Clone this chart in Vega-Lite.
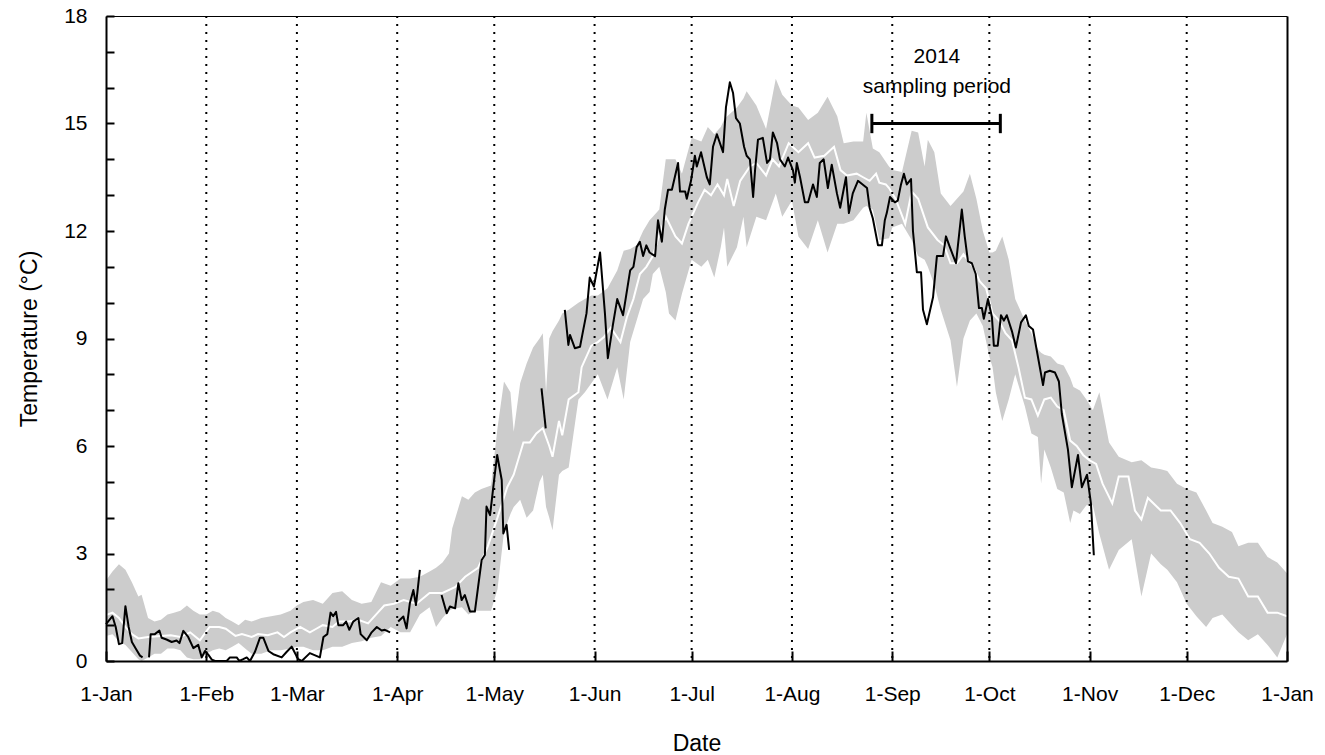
{
  "$schema": "https://vega.github.io/schema/vega-lite/v6.json",
  "width": 1181,
  "height": 645,
  "autosize": {"type": "none"},
  "padding": {"left": 106, "top": 16, "right": 38, "bottom": 94},
  "background": "white",
  "view": {"stroke": null},
  "config": {"font": "Liberation Sans"},
  "datasets": {
    "band": [
      {"d":0,"lo":0.7,"hi":2.25},{"d":2,"lo":0.75,"hi":2.5},{"d":4,"lo":0.55,"hi":2.7},{"d":6,"lo":0.45,"hi":2.55},{"d":8,"lo":0.25,"hi":2.2},{"d":10,"lo":0.05,"hi":1.8},{"d":11,"lo":0.0,"hi":1.85},{"d":13,"lo":0.1,"hi":1.2},{"d":15,"lo":0.2,"hi":1.1},{"d":17,"lo":0.2,"hi":1.15},{"d":19,"lo":0.35,"hi":1.3},{"d":21,"lo":0.35,"hi":1.35},{"d":23,"lo":0.3,"hi":1.4},{"d":25,"lo":0.1,"hi":1.55},{"d":27,"lo":0.05,"hi":1.4},{"d":29,"lo":0.05,"hi":1.3},{"d":31,"lo":0.2,"hi":1.3},{"d":33,"lo":0.3,"hi":1.4},{"d":35,"lo":0.35,"hi":1.35},{"d":37,"lo":0.3,"hi":1.2},{"d":39,"lo":0.4,"hi":1.1},{"d":41,"lo":0.5,"hi":1.0},{"d":43,"lo":0.35,"hi":1.15},{"d":45,"lo":0.2,"hi":1.1},{"d":48,"lo":0.2,"hi":1.2},{"d":51,"lo":0.3,"hi":1.25},{"d":54,"lo":0.3,"hi":1.3},{"d":57,"lo":0.35,"hi":1.4},{"d":59,"lo":0.4,"hi":1.55},{"d":61,"lo":0.4,"hi":1.65},{"d":64,"lo":0.3,"hi":1.7},{"d":67,"lo":0.3,"hi":1.6},{"d":70,"lo":0.4,"hi":1.9},{"d":73,"lo":0.4,"hi":1.95},{"d":76,"lo":0.5,"hi":1.7},{"d":79,"lo":0.55,"hi":1.6},{"d":82,"lo":0.65,"hi":1.65},{"d":85,"lo":0.7,"hi":2.2},{"d":88,"lo":0.95,"hi":2.1},{"d":91,"lo":0.8,"hi":2.3},{"d":94,"lo":0.8,"hi":2.3},{"d":97,"lo":1.3,"hi":2.35},{"d":100,"lo":1.5,"hi":2.5},{"d":102,"lo":0.95,"hi":2.6},{"d":104,"lo":1.2,"hi":2.75},{"d":106,"lo":1.4,"hi":3.0},{"d":107,"lo":1.45,"hi":3.7},{"d":110,"lo":1.5,"hi":4.6},{"d":112,"lo":1.3,"hi":4.5},{"d":114,"lo":1.4,"hi":4.7},{"d":116,"lo":1.4,"hi":4.8},{"d":119,"lo":1.4,"hi":4.9},{"d":121,"lo":2.0,"hi":6.5},{"d":123,"lo":3.6,"hi":7.8},{"d":125,"lo":4.1,"hi":7.5},{"d":126,"lo":4.3,"hi":6.4},{"d":128,"lo":4.5,"hi":7.75},{"d":130,"lo":4.0,"hi":8.3},{"d":132,"lo":4.2,"hi":8.75},{"d":134,"lo":5.0,"hi":9.0},{"d":135,"lo":5.2,"hi":9.15},{"d":136,"lo":4.3,"hi":7.5},{"d":137,"lo":4.0,"hi":9.0},{"d":138,"lo":3.65,"hi":9.2},{"d":140,"lo":5.2,"hi":9.5},{"d":141,"lo":5.3,"hi":9.7},{"d":143,"lo":5.4,"hi":9.8},{"d":146,"lo":7.3,"hi":10.0},{"d":148,"lo":7.5,"hi":10.1},{"d":150,"lo":7.75,"hi":10.2},{"d":152,"lo":8.0,"hi":10.2},{"d":155,"lo":7.3,"hi":10.4},{"d":158,"lo":8.2,"hi":10.9},{"d":160,"lo":7.3,"hi":11.45},{"d":162,"lo":8.9,"hi":11.5},{"d":164,"lo":9.5,"hi":11.6},{"d":166,"lo":10.1,"hi":12.0},{"d":168,"lo":10.3,"hi":12.3},{"d":169,"lo":10.8,"hi":12.4},{"d":171,"lo":11.0,"hi":12.6},{"d":173,"lo":10.3,"hi":14.0},{"d":174,"lo":9.7,"hi":14.0},{"d":176,"lo":9.5,"hi":14.0},{"d":178,"lo":10.25,"hi":13.6},{"d":181,"lo":11.2,"hi":14.6},{"d":184,"lo":11.0,"hi":14.5},{"d":186,"lo":11.2,"hi":14.9},{"d":188,"lo":10.7,"hi":14.7},{"d":190,"lo":11.55,"hi":14.9},{"d":191,"lo":12.1,"hi":15.1},{"d":192,"lo":11.0,"hi":15.2},{"d":195,"lo":11.55,"hi":15.45},{"d":197,"lo":12.4,"hi":15.7},{"d":198,"lo":11.55,"hi":15.9},{"d":201,"lo":12.4,"hi":15.5},{"d":204,"lo":12.3,"hi":14.85},{"d":207,"lo":13.05,"hi":16.25},{"d":209,"lo":12.4,"hi":15.8},{"d":212,"lo":12.85,"hi":15.5},{"d":214,"lo":11.85,"hi":15.45},{"d":217,"lo":11.5,"hi":15.1},{"d":220,"lo":12.3,"hi":15.3},{"d":223,"lo":11.4,"hi":15.75},{"d":226,"lo":12.2,"hi":15.2},{"d":228,"lo":12.2,"hi":14.45},{"d":231,"lo":12.3,"hi":14.5},{"d":234,"lo":12.65,"hi":14.5},{"d":235,"lo":12.7,"hi":15.3},{"d":237,"lo":12.6,"hi":14.3},{"d":239,"lo":11.75,"hi":14.2},{"d":242,"lo":11.8,"hi":13.8},{"d":243,"lo":12.1,"hi":13.7},{"d":246,"lo":12.2,"hi":13.65},{"d":249,"lo":11.75,"hi":14.8},{"d":251,"lo":11.3,"hi":14.75},{"d":253,"lo":11.2,"hi":13.8},{"d":254,"lo":11.0,"hi":14.55},{"d":256,"lo":10.5,"hi":14.2},{"d":258,"lo":9.8,"hi":13.05},{"d":261,"lo":8.95,"hi":12.7},{"d":263,"lo":7.65,"hi":12.9},{"d":265,"lo":9.0,"hi":13.1},{"d":267,"lo":9.5,"hi":13.6},{"d":269,"lo":9.7,"hi":12.9},{"d":271,"lo":9.35,"hi":12.0},{"d":273,"lo":8.5,"hi":11.4},{"d":274,"lo":8.2,"hi":11.4},{"d":275,"lo":7.5,"hi":11.45},{"d":277,"lo":6.7,"hi":11.85},{"d":279,"lo":7.3,"hi":11.2},{"d":281,"lo":8.0,"hi":10.1},{"d":284,"lo":7.1,"hi":9.5},{"d":286,"lo":6.35,"hi":9.15},{"d":288,"lo":6.25,"hi":8.7},{"d":289,"lo":4.95,"hi":8.6},{"d":290,"lo":5.9,"hi":8.55},{"d":292,"lo":5.4,"hi":8.5},{"d":294,"lo":4.8,"hi":8.3},{"d":296,"lo":4.7,"hi":8.25},{"d":298,"lo":3.85,"hi":7.9},{"d":299,"lo":4.2,"hi":7.65},{"d":301,"lo":4.1,"hi":7.55},{"d":303,"lo":4.35,"hi":7.3},{"d":305,"lo":4.35,"hi":7.0},{"d":307,"lo":3.55,"hi":7.5},{"d":310,"lo":2.55,"hi":6.1},{"d":313,"lo":3.1,"hi":5.7},{"d":317,"lo":3.4,"hi":5.55},{"d":320,"lo":1.8,"hi":5.6},{"d":323,"lo":3.0,"hi":5.4},{"d":326,"lo":2.7,"hi":5.35},{"d":328,"lo":2.55,"hi":5.3},{"d":331,"lo":2.2,"hi":4.95},{"d":334,"lo":1.6,"hi":4.8},{"d":337,"lo":1.25,"hi":4.7},{"d":340,"lo":0.95,"hi":4.2},{"d":342,"lo":1.2,"hi":3.85},{"d":345,"lo":1.3,"hi":3.75},{"d":348,"lo":1.0,"hi":3.6},{"d":350,"lo":0.8,"hi":3.2},{"d":353,"lo":0.58,"hi":3.3},{"d":356,"lo":0.75,"hi":3.3},{"d":359,"lo":0.45,"hi":2.9},{"d":362,"lo":0.1,"hi":2.75},{"d":365,"lo":0.75,"hi":2.45}
    ],
    "mean": [
      {"d":0,"t":1.28},{"d":2,"t":1.35},{"d":4,"t":1.2},{"d":6,"t":0.95},{"d":8,"t":0.75},{"d":10,"t":0.63},{"d":13,"t":0.67},{"d":17,"t":0.7},{"d":20,"t":0.72},{"d":23,"t":0.67},{"d":26,"t":0.8},{"d":29,"t":0.58},{"d":32,"t":0.95},{"d":35,"t":0.95},{"d":37,"t":0.9},{"d":40,"t":0.7},{"d":42,"t":0.75},{"d":45,"t":0.67},{"d":47,"t":0.75},{"d":50,"t":0.72},{"d":53,"t":0.8},{"d":55,"t":0.67},{"d":57,"t":0.8},{"d":60,"t":0.95},{"d":63,"t":0.8},{"d":65,"t":0.9},{"d":67,"t":1.0},{"d":70,"t":0.95},{"d":72,"t":1.1},{"d":75,"t":1.1},{"d":78,"t":1.15},{"d":81,"t":1.05},{"d":84,"t":1.35},{"d":86,"t":1.55},{"d":89,"t":1.6},{"d":92,"t":1.7},{"d":96,"t":1.6},{"d":100,"t":1.9},{"d":104,"t":1.9},{"d":108,"t":2.07},{"d":111,"t":2.35},{"d":115,"t":2.6},{"d":118,"t":3.2},{"d":121,"t":4.0},{"d":124,"t":4.85},{"d":126,"t":5.2},{"d":129,"t":6.1},{"d":131,"t":6.1},{"d":133,"t":6.35},{"d":135,"t":6.5},{"d":137,"t":6.0},{"d":138,"t":5.7},{"d":140,"t":6.7},{"d":141,"t":6.3},{"d":143,"t":7.3},{"d":146,"t":7.5},{"d":147,"t":8.2},{"d":150,"t":8.8},{"d":152,"t":8.9},{"d":154,"t":9.05},{"d":156,"t":9.3},{"d":159,"t":8.9},{"d":161,"t":9.6},{"d":163,"t":10.1},{"d":165,"t":10.8},{"d":167,"t":11.0},{"d":169,"t":11.3},{"d":171,"t":11.9},{"d":173,"t":12.4},{"d":176,"t":11.85},{"d":178,"t":11.65},{"d":180,"t":12.2},{"d":183,"t":12.8},{"d":185,"t":13.15},{"d":187,"t":13.0},{"d":189,"t":13.3},{"d":191,"t":13.0},{"d":192,"t":13.45},{"d":194,"t":12.7},{"d":196,"t":13.4},{"d":199,"t":13.8},{"d":201,"t":13.9},{"d":204,"t":13.55},{"d":206,"t":14.0},{"d":208,"t":13.8},{"d":211,"t":14.45},{"d":214,"t":14.2},{"d":217,"t":14.45},{"d":219,"t":14.05},{"d":222,"t":14.1},{"d":225,"t":14.35},{"d":227,"t":13.7},{"d":229,"t":13.55},{"d":232,"t":13.6},{"d":234,"t":13.5},{"d":236,"t":13.4},{"d":238,"t":13.6},{"d":239,"t":13.35},{"d":241,"t":13.3},{"d":242,"t":13.2},{"d":244,"t":12.9},{"d":247,"t":12.2},{"d":249,"t":13.1},{"d":251,"t":12.9},{"d":254,"t":12.1},{"d":257,"t":11.75},{"d":259,"t":11.6},{"d":261,"t":11.1},{"d":263,"t":11.1},{"d":265,"t":11.35},{"d":268,"t":11.0},{"d":270,"t":10.6},{"d":272,"t":10.4},{"d":274,"t":9.7},{"d":276,"t":9.5},{"d":278,"t":9.15},{"d":280,"t":8.95},{"d":282,"t":8.2},{"d":284,"t":7.35},{"d":286,"t":7.3},{"d":288,"t":6.85},{"d":290,"t":7.3},{"d":292,"t":7.35},{"d":294,"t":7.1},{"d":296,"t":7.0},{"d":298,"t":6.15},{"d":300,"t":6.0},{"d":302,"t":5.75},{"d":304,"t":5.6},{"d":306,"t":5.5},{"d":308,"t":4.95},{"d":311,"t":4.4},{"d":313,"t":5.15},{"d":316,"t":5.15},{"d":318,"t":4.2},{"d":320,"t":3.95},{"d":322,"t":4.55},{"d":326,"t":4.2},{"d":329,"t":4.2},{"d":332,"t":3.85},{"d":335,"t":3.4},{"d":338,"t":3.3},{"d":341,"t":3.0},{"d":344,"t":2.6},{"d":347,"t":2.35},{"d":350,"t":2.3},{"d":353,"t":1.8},{"d":356,"t":1.8},{"d":359,"t":1.35},{"d":362,"t":1.35},{"d":365,"t":1.25}
    ],
    "obs": [
      {"seg":1,"d":0,"t":1.03},{"seg":1,"d":2,"t":1.25},{"seg":1,"d":3,"t":0.95},{"seg":1,"d":4,"t":0.47},{"seg":1,"d":5,"t":0.5},{"seg":1,"d":6,"t":1.53},{"seg":1,"d":7,"t":0.95},{"seg":1,"d":8,"t":0.53},{"seg":1,"d":9.5,"t":0.3},{"seg":1,"d":10.5,"t":0.15},{"seg":1,"d":11.3,"t":0.1},
      {"seg":2,"d":13.3,"t":0.1},{"seg":2,"d":13.8,"t":0.75},{"seg":2,"d":15.1,"t":0.75},{"seg":2,"d":16.5,"t":0.85},{"seg":2,"d":17.2,"t":0.65},{"seg":2,"d":18.7,"t":0.6},{"seg":2,"d":20.3,"t":0.53},{"seg":2,"d":21.8,"t":0.57},{"seg":2,"d":22.7,"t":0.5},{"seg":2,"d":23.9,"t":0.84},{"seg":2,"d":25.4,"t":0.67},{"seg":2,"d":27,"t":0.36},{"seg":2,"d":28.5,"t":0.45},{"seg":2,"d":29.6,"t":0.1},{"seg":2,"d":30.6,"t":0.28},{"seg":2,"d":31.6,"t":0.18},{"seg":2,"d":32.7,"t":0.04},{"seg":2,"d":33.7,"t":0.0},{"seg":2,"d":37.3,"t":0.0},{"seg":2,"d":38.3,"t":0.1},{"seg":2,"d":40.4,"t":0.1},{"seg":2,"d":41.2,"t":0.0},{"seg":2,"d":42.4,"t":0.05},{"seg":2,"d":43.5,"t":0.1},{"seg":2,"d":44.5,"t":0.0},{"seg":2,"d":46,"t":0.25},{"seg":2,"d":47.6,"t":0.65},{"seg":2,"d":48.6,"t":0.65},{"seg":2,"d":50.2,"t":0.28},{"seg":2,"d":51.7,"t":0.19},{"seg":2,"d":54.3,"t":0.1},{"seg":2,"d":55.8,"t":0.25},{"seg":2,"d":57.4,"t":0.4},{"seg":2,"d":59.4,"t":0.05},{"seg":2,"d":60.5,"t":0.0},{"seg":2,"d":63,"t":0.22},{"seg":2,"d":66.1,"t":0.1},{"seg":2,"d":67.2,"t":0.67},{"seg":2,"d":68.4,"t":0.75},{"seg":2,"d":69.4,"t":1.35},{"seg":2,"d":70.2,"t":1.25},{"seg":2,"d":71.1,"t":1.37},{"seg":2,"d":71.8,"t":1.0},{"seg":2,"d":73.3,"t":1.0},{"seg":2,"d":74.2,"t":1.1},{"seg":2,"d":75.2,"t":0.87},{"seg":2,"d":76.4,"t":1.1},{"seg":2,"d":78,"t":1.2},{"seg":2,"d":78.7,"t":0.75},{"seg":2,"d":80.6,"t":0.58},{"seg":2,"d":82.1,"t":0.8},{"seg":2,"d":83.7,"t":0.95},{"seg":2,"d":85.2,"t":0.85},{"seg":2,"d":86.2,"t":0.87},{"seg":2,"d":87.8,"t":0.8},
      {"seg":3,"d":90.3,"t":1.1},{"seg":3,"d":91.9,"t":1.24},{"seg":3,"d":92.9,"t":0.91},{"seg":3,"d":93.9,"t":1.61},{"seg":3,"d":95,"t":1.98},{"seg":3,"d":95.8,"t":1.56},{"seg":3,"d":97,"t":2.54},
      {"seg":4,"d":103.7,"t":1.84},{"seg":4,"d":105.3,"t":1.33},{"seg":4,"d":106.3,"t":1.52},{"seg":4,"d":107.9,"t":1.47},{"seg":4,"d":108.9,"t":2.17},{"seg":4,"d":109.9,"t":1.7},{"seg":4,"d":110.9,"t":1.84},{"seg":4,"d":112.5,"t":1.38},{"seg":4,"d":114,"t":1.38},{"seg":4,"d":115,"t":2.07},{"seg":4,"d":116.1,"t":2.82},{"seg":4,"d":117.1,"t":2.96},{"seg":4,"d":117.6,"t":4.31},{"seg":4,"d":118.7,"t":4.07},{"seg":4,"d":120.2,"t":5.24},{"seg":4,"d":120.9,"t":5.75},{"seg":4,"d":122.3,"t":5.05},{"seg":4,"d":122.8,"t":3.56},{"seg":4,"d":123.8,"t":3.8},{"seg":4,"d":124.6,"t":3.1},
      {"seg":5,"d":134.6,"t":7.61},{"seg":5,"d":135.9,"t":6.49},
      {"seg":6,"d":141.8,"t":9.8},{"seg":6,"d":142.9,"t":8.82},{"seg":6,"d":143.4,"t":9.1},{"seg":6,"d":144.9,"t":8.73},{"seg":6,"d":146.5,"t":8.77},{"seg":6,"d":147.5,"t":9.24},{"seg":6,"d":148.5,"t":9.7},{"seg":6,"d":149.5,"t":10.7},{"seg":6,"d":150.8,"t":10.45},{"seg":6,"d":152.7,"t":11.4},{"seg":6,"d":154.2,"t":9.7},{"seg":6,"d":155.1,"t":8.45},{"seg":6,"d":156.7,"t":9.4},{"seg":6,"d":158,"t":10.1},{"seg":6,"d":159.8,"t":9.65},{"seg":6,"d":162,"t":10.9},{"seg":6,"d":163,"t":11.0},{"seg":6,"d":164,"t":11.55},{"seg":6,"d":165,"t":11.7},{"seg":6,"d":166,"t":11.3},{"seg":6,"d":167,"t":11.6},{"seg":6,"d":168,"t":11.4},{"seg":6,"d":169.7,"t":11.3},{"seg":6,"d":170.6,"t":12.3},{"seg":6,"d":171.8,"t":11.7},{"seg":6,"d":172.7,"t":12.6},{"seg":6,"d":173.7,"t":13.15},{"seg":6,"d":174.9,"t":13.15},{"seg":6,"d":176.8,"t":13.9},{"seg":6,"d":177.4,"t":13.1},{"seg":6,"d":179,"t":13.1},{"seg":6,"d":179.5,"t":12.9},{"seg":6,"d":180.8,"t":13.4},{"seg":6,"d":182,"t":14.1},{"seg":6,"d":182.6,"t":13.8},{"seg":6,"d":183.9,"t":14.2},{"seg":6,"d":185.7,"t":13.5},{"seg":6,"d":186.6,"t":13.3},{"seg":6,"d":187.6,"t":14.35},{"seg":6,"d":188.8,"t":14.7},{"seg":6,"d":190.7,"t":14.2},{"seg":6,"d":191.6,"t":15.45},{"seg":6,"d":192.8,"t":16.15},{"seg":6,"d":193.8,"t":15.85},{"seg":6,"d":194.7,"t":15.15},{"seg":6,"d":195.9,"t":15.0},{"seg":6,"d":197.2,"t":14.35},{"seg":6,"d":198,"t":14.1},{"seg":6,"d":199,"t":14.0},{"seg":6,"d":200,"t":12.95},{"seg":6,"d":200.6,"t":13.7},{"seg":6,"d":201.5,"t":14.55},{"seg":6,"d":203,"t":14.6},{"seg":6,"d":204.3,"t":13.9},{"seg":6,"d":205.2,"t":14.0},{"seg":6,"d":206.1,"t":14.75},{"seg":6,"d":207.4,"t":14.45},{"seg":6,"d":208.3,"t":14.0},{"seg":6,"d":209.8,"t":13.8},{"seg":6,"d":210.8,"t":14.05},{"seg":6,"d":212.3,"t":13.7},{"seg":6,"d":212.9,"t":13.35},{"seg":6,"d":213.5,"t":13.9},{"seg":6,"d":214.5,"t":13.5},{"seg":6,"d":216,"t":12.8},{"seg":6,"d":217,"t":12.8},{"seg":6,"d":218.5,"t":13.3},{"seg":6,"d":219.7,"t":12.95},{"seg":6,"d":220.6,"t":13.9},{"seg":6,"d":221.8,"t":14.0},{"seg":6,"d":223.1,"t":13.2},{"seg":6,"d":224.3,"t":13.85},{"seg":6,"d":225.9,"t":13.05},{"seg":6,"d":226.9,"t":12.65},{"seg":6,"d":228.7,"t":13.5},{"seg":6,"d":229.6,"t":12.5},{"seg":6,"d":230.8,"t":13.05},{"seg":6,"d":232.4,"t":13.4},{"seg":6,"d":235.2,"t":13.2},{"seg":6,"d":236,"t":12.65},{"seg":6,"d":237,"t":12.35},{"seg":6,"d":238.6,"t":11.6},{"seg":6,"d":239.8,"t":11.6},{"seg":6,"d":240.7,"t":12.3},{"seg":6,"d":241.3,"t":12.5},{"seg":6,"d":242.3,"t":12.95},{"seg":6,"d":243.8,"t":12.8},{"seg":6,"d":244.7,"t":12.85},{"seg":6,"d":245.7,"t":13.3},{"seg":6,"d":246.6,"t":13.6},{"seg":6,"d":247.5,"t":13.3},{"seg":6,"d":248.8,"t":13.45},{"seg":6,"d":249.4,"t":12.0},{"seg":6,"d":250.6,"t":10.85},{"seg":6,"d":251.9,"t":10.85},{"seg":6,"d":252.5,"t":9.8},{"seg":6,"d":253.7,"t":9.4},{"seg":6,"d":255.6,"t":10.15},{"seg":6,"d":256.8,"t":11.3},{"seg":6,"d":258.7,"t":11.3},{"seg":6,"d":259.6,"t":11.85},{"seg":6,"d":260.8,"t":11.55},{"seg":6,"d":262.7,"t":11.1},{"seg":6,"d":264.5,"t":12.6},{"seg":6,"d":265.4,"t":11.85},{"seg":6,"d":266.4,"t":11.15},{"seg":6,"d":267.6,"t":11.1},{"seg":6,"d":268.8,"t":10.8},{"seg":6,"d":269.8,"t":9.85},{"seg":6,"d":270.7,"t":9.85},{"seg":6,"d":271.3,"t":9.55},{"seg":6,"d":272.6,"t":10.1},{"seg":6,"d":273.8,"t":9.6},{"seg":6,"d":274.4,"t":8.8},{"seg":6,"d":275.6,"t":8.8},{"seg":6,"d":276.6,"t":9.65},{"seg":6,"d":277.5,"t":9.5},{"seg":6,"d":278.4,"t":9.65},{"seg":6,"d":280,"t":9.2},{"seg":6,"d":281.2,"t":8.75},{"seg":6,"d":282.8,"t":9.45},{"seg":6,"d":284.3,"t":9.65},{"seg":6,"d":285.2,"t":9.35},{"seg":6,"d":286.5,"t":9.25},{"seg":6,"d":289.6,"t":7.7},{"seg":6,"d":290.2,"t":8.05},{"seg":6,"d":291.7,"t":8.1},{"seg":6,"d":293.3,"t":8.05},{"seg":6,"d":294.5,"t":7.8},{"seg":6,"d":295.4,"t":6.9},{"seg":6,"d":297.3,"t":5.9},{"seg":6,"d":298.5,"t":4.85},{"seg":6,"d":300.4,"t":5.75},{"seg":6,"d":301.6,"t":4.85},{"seg":6,"d":303.2,"t":5.2},{"seg":6,"d":304.4,"t":4.4},{"seg":6,"d":305.3,"t":2.95}
    ],
    "months": [{"d":31},{"d":59},{"d":90},{"d":120},{"d":151},{"d":181},{"d":212},{"d":243},{"d":273},{"d":304},{"d":334}],
    "bracket": [{"d1":236.7,"d2":276.4,"t":15.0}],
    "caps": [{"d":236.7,"t1":14.73,"t2":15.27},{"d":276.4,"t1":14.73,"t2":15.27}],
    "notes": [{"d":256.8,"t":16.86,"txt":"2014"},{"d":256.8,"t":16.02,"txt":"sampling period"}]
  },
  "layer": [
    {
      "data": {"name": "band"},
      "mark": {"type": "area", "color": "#cccccc", "opacity": 1},
      "encoding": {
        "x": {"field": "d", "type": "quantitative", "scale": {"domain": [0, 365], "nice": false, "zero": false},
          "axis": {"orient": "bottom", "values": [0,31,59,90,120,151,181,212,243,273,304,334,365],
            "labelExpr": "['1-Jan','1-Feb','1-Mar','1-Apr','1-May','1-Jun','1-Jul','1-Aug','1-Sep','1-Oct','1-Nov','1-Dec','1-Jan'][indexof([0,31,59,90,120,151,181,212,243,273,304,334,365], datum.value)]",
            "grid": false, "tickSize": -10, "tickWidth": 2, "tickColor": "#000",
            "domainColor": "#000", "domainWidth": 2,
            "labelFont": "Liberation Sans", "labelFontSize": 21, "labelColor": "#000", "labelPadding": 32, "labelFlush": false, "labelOverlap": false,
            "title": "Date", "titleFont": "Liberation Sans", "titleFontSize": 23, "titleFontWeight": "normal", "titleColor": "#000", "titlePadding": 28,
            "zindex": 1}},
        "y": {"field": "hi", "type": "quantitative", "scale": {"domain": [0, 18], "nice": false},
          "axis": {"orient": "left", "values": [0,1,2,3,4,5,6,7,8,9,10,11,12,13,14,15,16,17,18],
            "labelExpr": "datum.value % 3 === 0 ? datum.label : ''",
            "grid": false, "tickSize": -8, "tickWidth": 2, "tickColor": "#000",
            "domainColor": "#000", "domainWidth": 2,
            "labelFont": "Liberation Sans", "labelFontSize": 21, "labelColor": "#000", "labelPadding": 27, "labelOverlap": false,
            "title": "Temperature (°C)", "titleFont": "Liberation Sans", "titleFontSize": 23, "titleFontWeight": "normal", "titleColor": "#000", "titlePadding": 22,
            "zindex": 1}},
        "y2": {"field": "lo"}
      }
    },
    {
      "data": {"name": "mean"},
      "mark": {"type": "line", "color": "white", "strokeWidth": 2},
      "encoding": {
        "x": {"field": "d", "type": "quantitative", "scale": {"domain": [0, 365], "nice": false, "zero": false}, "axis": null},
        "y": {"field": "t", "type": "quantitative", "scale": {"domain": [0, 18], "nice": false}, "axis": null}
      }
    },
    {
      "data": {"name": "months"},
      "mark": {"type": "rule", "color": "black", "strokeWidth": 2, "strokeDash": [2, 6]},
      "encoding": {
        "x": {"field": "d", "type": "quantitative", "scale": {"domain": [0, 365], "nice": false, "zero": false}, "axis": null}
      }
    },
    {
      "data": {"name": "obs"},
      "mark": {"type": "line", "color": "black", "strokeWidth": 2, "strokeJoin": "round"},
      "encoding": {
        "x": {"field": "d", "type": "quantitative", "scale": {"domain": [0, 365], "nice": false, "zero": false}, "axis": null},
        "y": {"field": "t", "type": "quantitative", "scale": {"domain": [0, 18], "nice": false}, "axis": null},
        "detail": {"field": "seg", "type": "nominal"}
      }
    },
    {
      "data": {"name": "bracket"},
      "mark": {"type": "rule", "color": "black", "strokeWidth": 3},
      "encoding": {
        "x": {"field": "d1", "type": "quantitative", "scale": {"domain": [0, 365], "nice": false, "zero": false},
          "axis": {"orient": "top", "labels": false, "ticks": false, "grid": false, "domainColor": "#000", "domainWidth": 1, "title": null, "zindex": 1}},
        "x2": {"field": "d2"},
        "y": {"field": "t", "type": "quantitative", "scale": {"domain": [0, 18], "nice": false},
          "axis": {"orient": "right", "labels": false, "ticks": false, "grid": false, "domainColor": "#000", "domainWidth": 2, "title": null, "zindex": 1}}
      }
    },
    {
      "data": {"name": "caps"},
      "mark": {"type": "rule", "color": "black", "strokeWidth": 3},
      "encoding": {
        "x": {"field": "d", "type": "quantitative", "scale": {"domain": [0, 365], "nice": false, "zero": false}, "axis": null},
        "y": {"field": "t1", "type": "quantitative", "scale": {"domain": [0, 18], "nice": false}, "axis": null},
        "y2": {"field": "t2"}
      }
    },
    {
      "data": {"name": "notes"},
      "mark": {"type": "text", "font": "Liberation Sans", "fontSize": 21, "color": "black", "align": "center", "baseline": "middle"},
      "encoding": {
        "x": {"field": "d", "type": "quantitative", "scale": {"domain": [0, 365], "nice": false, "zero": false}, "axis": null},
        "y": {"field": "t", "type": "quantitative", "scale": {"domain": [0, 18], "nice": false}, "axis": null},
        "text": {"field": "txt"}
      }
    }
  ]
}
